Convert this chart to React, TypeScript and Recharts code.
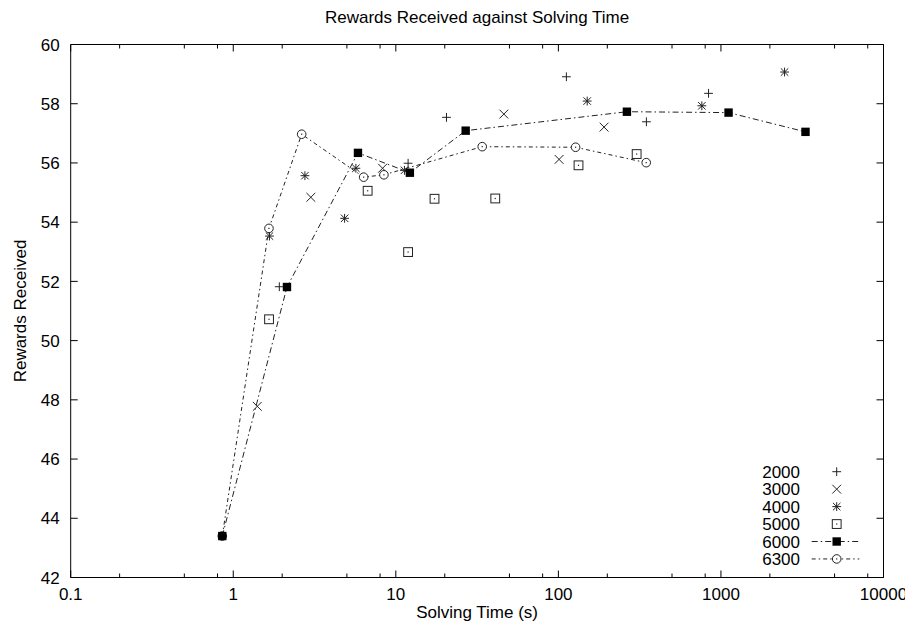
import React from 'react';
import { ScatterChart, Scatter, XAxis, YAxis } from 'recharts';

const xTicks = [0.1, 0.2, 0.5, 0.8, 1, 2, 5, 8, 10, 20, 50, 80, 100, 200, 500, 800, 1000, 2000, 5000, 8000, 10000];
const xMajor = [0.1, 1, 10, 100, 1000, 10000];
const yTicks = [42, 44, 46, 48, 50, 52, 54, 56, 58, 60];

const s2000 = [
  { t: 1.92, r: 51.82 }, { t: 11.9, r: 55.99 }, { t: 20.5, r: 57.54 },
  { t: 112, r: 58.91 }, { t: 348, r: 57.39 }, { t: 839, r: 58.35 },
];
const s3000 = [
  { t: 1.405, r: 47.78 }, { t: 3.0, r: 54.84 }, { t: 8.29, r: 55.82 },
  { t: 46.2, r: 57.65 }, { t: 101, r: 56.12 }, { t: 191, r: 57.21 },
];
const s4000 = [
  { t: 1.67, r: 53.53 }, { t: 2.76, r: 55.57 }, { t: 4.84, r: 54.13 }, { t: 5.68, r: 55.82 },
  { t: 11.3, r: 55.75 }, { t: 150.4, r: 58.09 }, { t: 763, r: 57.93 }, { t: 2462, r: 59.07 },
];
const s5000 = [
  { t: 1.66, r: 50.72 }, { t: 6.71, r: 55.06 }, { t: 11.9, r: 52.99 }, { t: 17.3, r: 54.79 },
  { t: 40.9, r: 54.8 }, { t: 133, r: 55.92 }, { t: 303, r: 56.3 },
];
const s6000 = [
  { t: 0.856, r: 43.4 }, { t: 2.14, r: 51.81 }, { t: 5.85, r: 56.34 }, { t: 12.2, r: 55.67 },
  { t: 26.9, r: 57.09 }, { t: 264, r: 57.73 }, { t: 1114, r: 57.7 }, { t: 3313, r: 57.05 },
];
const s6300 = [
  { t: 0.856, r: 43.4 }, { t: 1.658, r: 53.79 }, { t: 2.635, r: 56.97 }, { t: 6.34, r: 55.52 },
  { t: 8.45, r: 55.6 }, { t: 34, r: 56.55 }, { t: 127.6, r: 56.53 }, { t: 347, r: 56.01 },
];

const INK = '#222';
const FONT = '"Liberation Sans", Arial, Helvetica, sans-serif';
const FS = 17;

type Kind = 'plus' | 'cross' | 'star' | 'box' | 'fsquare' | 'circle';

function Marker({ kind, cx, cy }: { kind: Kind; cx: number; cy: number }) {
  const s = 4.4;
  switch (kind) {
    case 'plus':
      return (
        <g stroke={INK} strokeWidth={1}>
          <line x1={cx - s} y1={cy} x2={cx + s} y2={cy} />
          <line x1={cx} y1={cy - s} x2={cx} y2={cy + s} />
        </g>
      );
    case 'cross':
      return (
        <g stroke={INK} strokeWidth={1}>
          <line x1={cx - s} y1={cy - s} x2={cx + s} y2={cy + s} />
          <line x1={cx - s} y1={cy + s} x2={cx + s} y2={cy - s} />
        </g>
      );
    case 'star':
      return (
        <g stroke={INK} strokeWidth={1}>
          <line x1={cx - s} y1={cy} x2={cx + s} y2={cy} />
          <line x1={cx} y1={cy - s} x2={cx} y2={cy + s} />
          <line x1={cx - s * 0.85} y1={cy - s * 0.85} x2={cx + s * 0.85} y2={cy + s * 0.85} />
          <line x1={cx - s * 0.85} y1={cy + s * 0.85} x2={cx + s * 0.85} y2={cy - s * 0.85} />
        </g>
      );
    case 'box':
      return (
        <g>
          <rect x={cx - s} y={cy - s} width={2 * s} height={2 * s} fill="#fff" stroke={INK} strokeWidth={1} />
          <rect x={cx - 0.6} y={cy - 0.6} width={1.2} height={1.2} fill={INK} />
        </g>
      );
    case 'fsquare':
      return <rect x={cx - 4.2} y={cy - 4.2} width={8.4} height={8.4} fill="#000" />;
    case 'circle':
      return (
        <g>
          <circle cx={cx} cy={cy} r={4.3} fill="#fff" stroke={INK} strokeWidth={1} />
          <rect x={cx - 0.6} y={cy - 0.6} width={1.2} height={1.2} fill={INK} />
        </g>
      );
  }
  return null;
}

type Series = { name: string; data: { t: number; r: number }[]; kind: Kind; dash?: string };

const series: Series[] = [
  { name: '2000', data: s2000, kind: 'plus' },
  { name: '3000', data: s3000, kind: 'cross' },
  { name: '4000', data: s4000, kind: 'star' },
  { name: '5000', data: s5000, kind: 'box' },
  { name: '6000', data: s6000, kind: 'fsquare', dash: '6 3 1.5 3' },
  { name: '6300', data: s6300, kind: 'circle', dash: '4 3 1.5 3' },
];

// drawing order: 6300 beneath 6000 so the shared first point shows the filled square
const drawOrder = ['2000', '3000', '4000', '5000', '6300', '6000'];

const BottomTick = (props: any) => {
  const { x, y, payload } = props;
  const major = xMajor.includes(payload.value);
  return (
    <g>
      <line x1={x} y1={y} x2={x} y2={y - (major ? 7 : 4)} stroke="#000" strokeWidth={1} />
      {major && (
        <text x={x} y={y + 22.5} textAnchor="middle" fontFamily={FONT} fontSize={FS} fill="#000">
          {String(payload.value)}
        </text>
      )}
    </g>
  );
};

const TopTick = (props: any) => {
  const { x, y, payload } = props;
  const major = xMajor.includes(payload.value);
  return <line x1={x} y1={y} x2={x} y2={y + (major ? 7 : 4)} stroke="#000" strokeWidth={1} />;
};

const LeftTick = (props: any) => {
  const { x, y, payload } = props;
  return (
    <g>
      <line x1={x} y1={y} x2={x + 7} y2={y} stroke="#000" strokeWidth={1} />
      <text x={x - 11} y={y} dy="0.36em" textAnchor="end" fontFamily={FONT} fontSize={FS} fill="#000">
        {String(payload.value)}
      </text>
    </g>
  );
};

const RightTick = (props: any) => {
  const { x, y } = props;
  return <line x1={x} y1={y} x2={x - 7} y2={y} stroke="#000" strokeWidth={1} />;
};

const LegendBox = () => (
  <svg width={170} height={112} style={{ display: 'block' }}>
    {series.map((s, i) => {
      const cy = 11.7 + 17.45 * i;
      return (
        <g key={s.name}>
          <text x={100} y={cy} dy="0.36em" textAnchor="end" fontFamily={FONT} fontSize={FS} fill="#000">
            {s.name}
          </text>
          {s.dash && (
            <line x1={111.7} y1={cy} x2={159.3} y2={cy} stroke={INK} strokeWidth={1} strokeDasharray={s.dash} />
          )}
          <Marker kind={s.kind} cx={136.7} cy={cy} />
        </g>
      );
    })}
  </svg>
);

export default function App() {
  const ordered = drawOrder.map((n) => series.find((s) => s.name === n) as Series);
  return (
    <div style={{ position: 'relative', width: 905, height: 620 }}>
      <ScatterChart width={905} height={620} margin={{ top: 35.5, right: 28.5, bottom: 0, left: 0 }}>
        <XAxis
          xAxisId="b"
          dataKey="t"
          type="number"
          scale="log"
          domain={[0.1, 10000]}
          allowDataOverflow
          ticks={xTicks}
          interval={0}
          height={50.5}
          tickSize={0}
          tickMargin={0}
          tickLine={false}
          tick={BottomTick}
          axisLine={{ stroke: '#000', strokeWidth: 1 }}
          label={(p: any) => {
            const vb = p.viewBox;
            return (
              <text x={vb.x + vb.width / 2} y={vb.y + 40.2} textAnchor="middle" fontFamily={FONT} fontSize={FS} fill="#000">
                Solving Time (s)
              </text>
            );
          }}
        />
        <XAxis
          xAxisId="t"
          orientation="top"
          dataKey="t"
          type="number"
          scale="log"
          domain={[0.1, 10000]}
          allowDataOverflow
          ticks={xTicks}
          interval={0}
          height={1}
          tickSize={0}
          tickMargin={0}
          tickLine={false}
          tick={TopTick}
          axisLine={{ stroke: '#000', strokeWidth: 1 }}
          label={(p: any) => {
            const vb = p.viewBox;
            return (
              <text x={vb.x + vb.width / 2} y={vb.y + vb.height - 21.5} textAnchor="middle" fontFamily={FONT} fontSize={FS} fill="#000">
                Rewards Received against Solving Time
              </text>
            );
          }}
        />
        <YAxis
          yAxisId="l"
          dataKey="r"
          type="number"
          domain={[42, 60]}
          allowDataOverflow
          ticks={yTicks}
          interval={0}
          width={62.7}
          tickSize={0}
          tickMargin={0}
          tickLine={false}
          tick={LeftTick}
          axisLine={{ stroke: '#000', strokeWidth: 1 }}
          label={(p: any) => {
            const vb = p.viewBox;
            const cx = 12;
            const cy = vb.y + vb.height / 2;
            return (
              <text x={cx} y={cy} dy="0.36em" textAnchor="middle" transform={`rotate(-90 ${cx} ${cy})`} fontFamily={FONT} fontSize={FS} fill="#000">
                Rewards Received
              </text>
            );
          }}
        />
        <YAxis
          yAxisId="r"
          orientation="right"
          dataKey="r"
          type="number"
          domain={[42, 60]}
          allowDataOverflow
          ticks={yTicks}
          interval={0}
          width={1}
          tickSize={0}
          tickMargin={0}
          tickLine={false}
          tick={RightTick}
          axisLine={{ stroke: '#000', strokeWidth: 1 }}
        />
        {ordered.map((s) => (
          <Scatter
            key={s.name}
            name={s.name}
            data={s.data}
            xAxisId="b"
            yAxisId="l"
            isAnimationActive={false}
            line={s.dash ? { stroke: INK, strokeWidth: 1, strokeDasharray: s.dash } : false}
            lineType="joint"
            shape={(p: any) => <Marker kind={s.kind} cx={p.cx} cy={p.cy} />}
          />
        ))}
      </ScatterChart>
      <div style={{ position: 'absolute', left: 692, top: 452 }}>
        <LegendBox />
      </div>
    </div>
  );
}
